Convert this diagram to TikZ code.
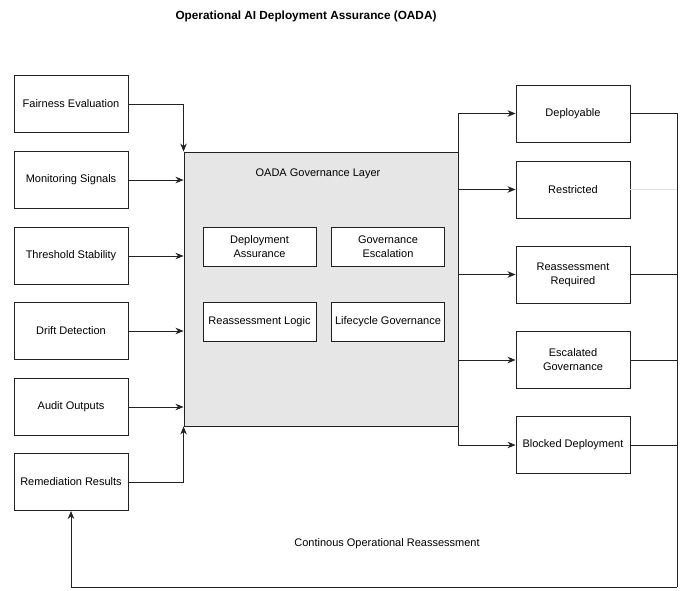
\documentclass[tikz,border=0pt]{standalone}
\usepackage{fontspec}
\setmainfont{Liberation Sans}
\usetikzlibrary{arrows.meta,calc}
\definecolor{layerfill}{HTML}{E6E6E6}
\definecolor{edge}{HTML}{222222}
\begin{document}
\begin{tikzpicture}[x=1pt,y=-1pt,
  every node/.style={font=\fontsize{11}{14}\selectfont, text=black},
  box/.style={draw=edge, line width=0.9pt, fill=white, minimum width=114pt, minimum height=57pt, inner sep=0pt, align=center},
  inner/.style={draw=edge, line width=0.9pt, fill=white, minimum width=113pt, minimum height=39pt, inner sep=0pt, align=center},
  layer/.style={draw=edge, line width=0.9pt, fill=layerfill, minimum width=274pt, minimum height=274pt, inner sep=0pt},
  conn/.style={draw=edge, line width=0.9pt},
  arr/.style={conn, -{Stealth[length=8pt,width=6.5pt,inset=2.5pt]}},
  ]
\useasboundingbox (0,0) rectangle (688,591);
\node[font=\bfseries\fontsize{11.8}{14}\selectfont] (title) at (306,16) {Operational AI Deployment Assurance (OADA)};

% main layer
\node[layer] (main) at (321,289) {};
\node (layertitle) at (318,174) {OADA Governance Layer};
\node[inner] (da) at (259.5,246.5) {Deployment\\Assurance};
\node[inner] (ge) at (388,246.5) {Governance\\Escalation};
\node[inner] (rl) at (259.5,322) {Reassessment Logic};
\node[inner] (lg) at (388,322) {Lifecycle Governance};

% inputs
\node[box] (fair) at (71,104) {Fairness Evaluation};
\node[box] (mon) at (71,180) {Monitoring Signals};
\node[box] (thr) at (71,256) {Threshold Stability};
\node[box] (drift) at (71,331) {Drift Detection};
\node[box] (audit) at (71,407) {Audit Outputs};
\node[box] (rem) at (71,482) {Remediation Results};

% outputs
\node[box] (dep) at (573,113.5) {Deployable};
\node[box] (res) at (573,189.5) {Restricted};
\node[box] (req) at (573,274.5) {Reassessment\\Required};
\node[box] (esc) at (573,360) {Escalated\\Governance};
\node[box] (blk) at (573,445) {Blocked Deployment};

% input connectors
\draw[arr] (fair.east) -| (main.north west);
\draw[arr] (mon.east) -- (mon.east -| main.west);
\draw[arr] (thr.east) -- (thr.east -| main.west);
\draw[arr] (drift.east) -- (drift.east -| main.west);
\draw[arr] (audit.east) -- (audit.east -| main.west);
\draw[arr] (rem.east) -| (main.south west);

% output connectors
\draw[arr] (main.north east) |- (dep.west);
\draw[arr] (res.west -| main.east) -- (res.west);
\draw[arr] (req.west -| main.east) -- (req.west);
\draw[arr] (esc.west -| main.east) -- (esc.west);
\draw[arr] (main.south east) |- (blk.west);

% feedback loop
\coordinate (loopR) at (677,587);
\draw[conn] (dep.east) -| (loopR);
\draw[draw=gray!25, line width=0.8pt] (res.east) -- (res.east -| loopR);
\draw[conn] (req.east) -- (req.east -| loopR);
\draw[conn] (esc.east) -- (esc.east -| loopR);
\draw[conn] (blk.east) -- (blk.east -| loopR);
\draw[arr] (loopR) -| (rem.south);
\node (looplabel) at (387,544) {Continous Operational Reassessment};
\end{tikzpicture}
\end{document}
